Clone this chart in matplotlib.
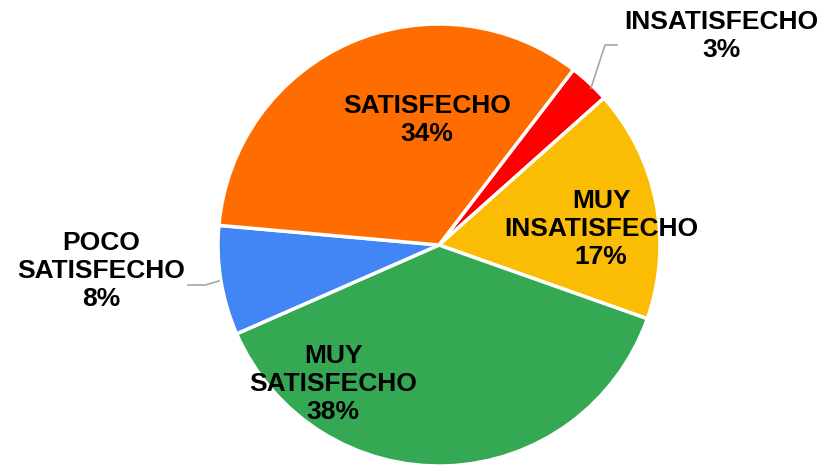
import matplotlib
matplotlib.use('Agg')
import matplotlib.pyplot as plt

# survey satisfaction shares
categories = ["INSATISFECHO", "MUY\nINSATISFECHO", "MUY\nSATISFECHO",
              "POCO\nSATISFECHO", "SATISFECHO"]
shares = [3, 17, 38, 8, 34]
colors = ["#FF0000", "#FBBC04", "#34A853", "#4285F4", "#FF6D01"]

W, H = 826, 469
fig = plt.figure(figsize=(W / 100, H / 100), dpi=100)
ax = fig.add_axes([0, 0, 1, 1])

cx, cy, r = 439, H - 245, 221
wedges, _ = ax.pie(shares, colors=colors, startangle=52.5, counterclock=False,
                   center=(cx, cy), radius=r, frame=True,
                   wedgeprops=dict(edgecolor='white', linewidth=2.5))
ax.set_xlim(0, W)
ax.set_ylim(0, H)
ax.set_aspect('equal')
ax.axis('off')

font = dict(family=['Liberation Sans', 'DejaVu Sans'], fontweight='bold',
            fontsize=19, color='black', ha='center', va='center',
            linespacing=1.2)

def lab(x, y, i):
    ax.text(x, H - y, "%s\n%d%%" % (categories[i], shares[i]), **font)

lab(721, 36, 0)
lab(601, 229, 1)
lab(333, 384, 2)
lab(101, 271, 3)
lab(427, 120, 4)

# leader lines
ax.plot([591, 605, 617], [H - 88, H - 45, H - 45], color='#A6A6A6', lw=1.2)
ax.plot([188, 205, 219], [H - 285, H - 285, H - 281], color='#A6A6A6', lw=1.2)

fig.savefig('out.png', dpi=100, facecolor='white')
